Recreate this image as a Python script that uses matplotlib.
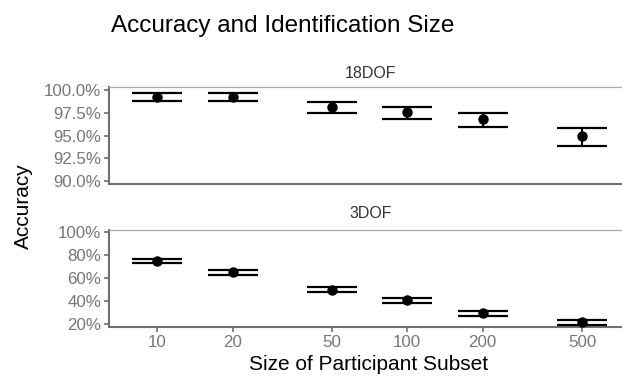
import matplotlib
matplotlib.use("Agg")
import matplotlib.pyplot as plt
import numpy as np
from matplotlib.ticker import FuncFormatter, FixedLocator, NullLocator

plt.rcParams['font.family'] = ['Liberation Sans', 'DejaVu Sans']

sizes = [10, 20, 50, 100, 200, 500]
size_labels = ["10", "20", "50", "100", "200", "500"]

acc18 = [99.26, 99.26, 98.10, 97.54, 96.77, 94.90]
low18 = [98.79, 98.79, 97.43, 96.77, 95.90, 93.87]
up18 = [99.63, 99.63, 98.65, 98.16, 97.50, 95.81]

acc3 = [75.0, 64.8, 49.8, 40.8, 29.6, 21.8]
low3 = [72.8, 62.3, 47.4, 38.3, 27.0, 19.4]
up3 = [76.9, 66.6, 51.8, 42.8, 31.6, 23.6]

ticks18 = [90.0, 92.5, 95.0, 97.5, 100.0]
ticks3 = [20, 40, 60, 80, 100]

W, H = 622, 377
fig = plt.figure(figsize=(W / 100, H / 100), dpi=100)

def px_axes(left, top, right, bottom):
    return fig.add_axes([left / W, 1 - bottom / H, (right - left) / W, (bottom - top) / H])

ax1 = px_axes(109, 87, 622, 184)
ax2 = px_axes(109, 230, 622, 327)

axis_col = '#707070'
tick_col = '#777777'

def style(ax, acc, low, up, yticks, ylim, fmt, strip, show_x):
    acc = np.array(acc); low = np.array(low); up = np.array(up)
    ax.errorbar(sizes, acc, yerr=[acc - low, up - acc], fmt='o', color='black',
                ms=6.5, elinewidth=1.5, capsize=18, capthick=1.6, zorder=3)
    ax.set_xscale('log')
    ax.set_xlim(10 ** 0.807, 10 ** 2.859)
    ax.set_ylim(*ylim)
    ax.yaxis.set_major_locator(FixedLocator(yticks))
    ax.yaxis.set_minor_locator(NullLocator())
    ax.yaxis.set_major_formatter(FuncFormatter(fmt))
    ax.xaxis.set_minor_locator(NullLocator())
    for s in ['right']:
        ax.spines[s].set_visible(False)
    ax.spines['top'].set_color('#aaaaaa')
    ax.spines['top'].set_linewidth(0.9)
    for s in ['left', 'bottom']:
        ax.spines[s].set_color(axis_col)
        ax.spines[s].set_linewidth(1.5)
    ax.tick_params(axis='y', colors=axis_col, labelcolor=tick_col, labelsize=12.2,
                   length=3.5, width=1.2, pad=2)
    if show_x:
        ax.xaxis.set_major_locator(FixedLocator(sizes))
        ax.set_xticklabels(size_labels)
        ax.tick_params(axis='x', colors=axis_col, labelcolor=tick_col, labelsize=12.2,
                       length=3.5, width=1.2, pad=2)
    else:
        ax.xaxis.set_major_locator(NullLocator())
    ax.text(0.5, 1.0, strip, transform=ax.transAxes, ha='center', va='bottom',
            fontsize=11.5, color='#333333')

style(ax1, acc18, low18, up18, ticks18, (89.67, 100.33), lambda v, p: f"{v:.1f}%", "18DOF", False)
style(ax2, acc3, low3, up3, ticks3, (17.4, 101.7), lambda v, p: f"{v:.0f}%", "3DOF", True)

# move strip labels up a bit (pixel offsets)
for ax, ypx in [(ax1, 73), (ax2, 214)]:
    for t in ax.texts:
        t.set_transform(fig.transFigure)
        t.set_position((371 / W, 1 - ypx / H))
        t.set_va('center')

fig.text(111 / W, 1 - 26 / H, "Accuracy and Identification Size", ha='left', va='center',
         fontsize=17.5, color='black')
fig.text(23 / W, 1 - 206 / H, "Accuracy", rotation=90, ha='center', va='center',
         fontsize=15, color='black')
fig.text(369 / W, 1 - 365 / H, "Size of Participant Subset", ha='center', va='center',
         fontsize=15, color='black')

fig.savefig("out.png", dpi=100, facecolor='white')
